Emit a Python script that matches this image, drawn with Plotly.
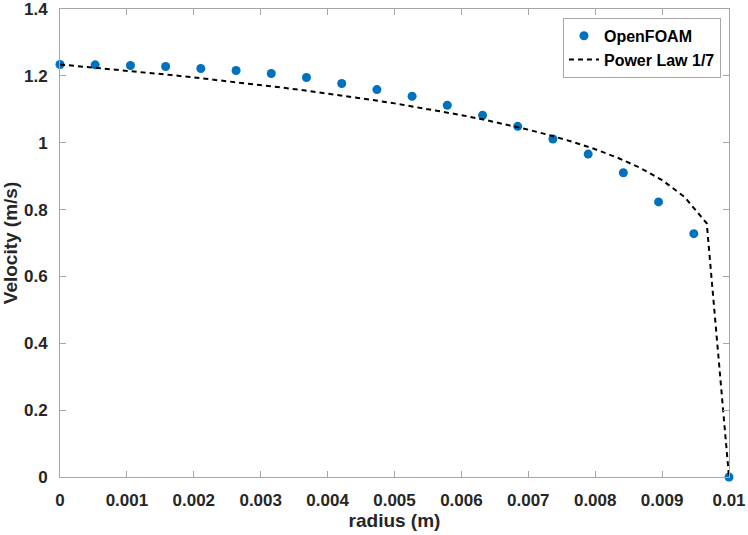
import plotly.graph_objects as go

# OpenFOAM radial velocity samples (pipe radius R = 0.01 m)
radius_cfd = [0.0, 0.000526, 0.001053, 0.001579, 0.002105, 0.002632, 0.003158,
              0.003684, 0.004211, 0.004737, 0.005263, 0.005789, 0.006316,
              0.006842, 0.007368, 0.007895, 0.008421, 0.008947, 0.009474, 0.01]
velocity_cfd = [1.234, 1.233, 1.231, 1.228, 1.222, 1.216, 1.207, 1.195, 1.177,
                1.159, 1.139, 1.112, 1.082, 1.049, 1.011, 0.966, 0.910, 0.823,
                0.728, 0.0]

# 1/7 power-law profile sampled every R/30
radius_pl = [0.0, 0.000333, 0.000667, 0.001, 0.001333, 0.001667, 0.002,
             0.002333, 0.002667, 0.003, 0.003333, 0.003667, 0.004, 0.004333,
             0.004667, 0.005, 0.005333, 0.005667, 0.006, 0.006333, 0.006667,
             0.007, 0.007333, 0.007667, 0.008, 0.008333, 0.008667, 0.009,
             0.009333, 0.009667, 0.01]
velocity_pl = [1.2340, 1.2280, 1.2219, 1.2155, 1.2090, 1.2023, 1.1953, 1.1880,
               1.1805, 1.1727, 1.1645, 1.1560, 1.1472, 1.1378, 1.1280, 1.1177,
               1.1067, 1.0950, 1.0826, 1.0692, 1.0548, 1.0390, 1.0217, 1.0024,
               0.9805, 0.9553, 0.9253, 0.8881, 0.8381, 0.7591, 0.0]

x_ticks = [0, 0.001, 0.002, 0.003, 0.004, 0.005, 0.006, 0.007, 0.008, 0.009, 0.01]
x_tick_labels = ["0", "0.001", "0.002", "0.003", "0.004", "0.005", "0.006",
                 "0.007", "0.008", "0.009", "0.01"]
y_ticks = [0, 0.2, 0.4, 0.6, 0.8, 1.0, 1.2, 1.4]
y_tick_labels = ["0", "0.2", "0.4", "0.6", "0.8", "1", "1.2", "1.4"]

FONT = "Liberation Sans, Arial, Helvetica, sans-serif"
TEXT = "#262626"
AXIS = "#a6a6a6"

fig = go.Figure()
fig.add_trace(go.Scatter(
    x=radius_cfd, y=velocity_cfd, mode="markers", name="<b>OpenFOAM</b>",
    marker=dict(color="#0072BD", size=9, line=dict(width=0)),
    cliponaxis=False,
))
fig.add_trace(go.Scatter(
    x=radius_pl, y=velocity_pl, mode="lines", name="<b>Power Law 1/7</b>",
    line=dict(color="black", width=2, dash="5px,4px"),
    cliponaxis=False,
))

axis_common = dict(
    showgrid=False, zeroline=False, showline=True, linecolor=AXIS, linewidth=1,
    mirror="ticks", ticks="inside", ticklen=6, tickcolor=AXIS, tickwidth=1,
    tickfont=dict(family=FONT, size=17, color=TEXT),
    ticklabeloverflow="allow", ticklabelstandoff=8, automargin=False,
)

fig.update_xaxes(
    range=[0, 0.01], tickvals=x_ticks,
    ticktext=[f"<b>{t}</b>" for t in x_tick_labels],
    title=dict(text="<b>radius (m)</b>", font=dict(family=FONT, size=19, color=TEXT),
               standoff=2),
    **axis_common,
)
fig.update_yaxes(
    range=[0, 1.4], tickvals=y_ticks,
    ticktext=[f"<b>{t}</b>" for t in y_tick_labels],
    title=dict(text="<b>Velocity (m/s)</b>", font=dict(family=FONT, size=19, color=TEXT)),
    **axis_common,
)

fig.update_layout(
    width=748, height=535,
    margin=dict(l=60, r=19, t=9, b=58),
    plot_bgcolor="white", paper_bgcolor="white",
    legend=dict(
        x=0.988, y=0.981, xanchor="right", yanchor="top",
        bgcolor="white", bordercolor=AXIS, borderwidth=1,
        font=dict(family=FONT, size=16, color="black"),
        tracegroupgap=0, itemwidth=30,
    ),
    showlegend=True,
)

fig.write_html("out.html")
